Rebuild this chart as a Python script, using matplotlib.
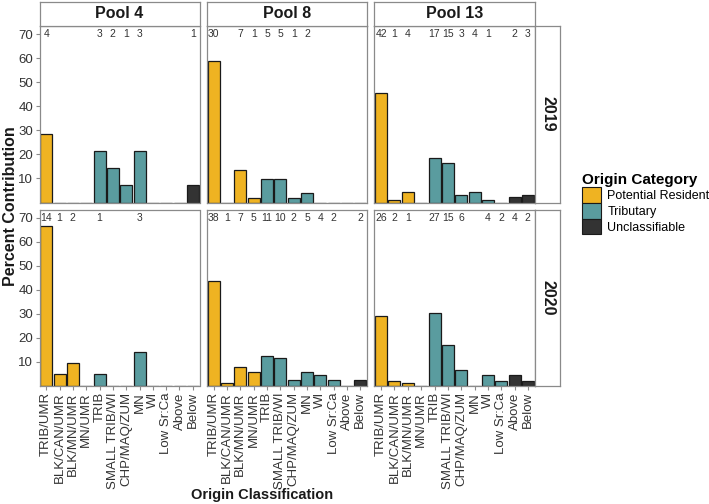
import matplotlib
matplotlib.use('Agg')
import matplotlib.pyplot as plt
from matplotlib.patches import Patch

plt.rcParams['font.family'] = ['Liberation Sans', 'DejaVu Sans']

categories = ['TRIB/UMR', 'BLK/CAN/UMR', 'BLK/MN/UMR', 'MN/UMR', 'TRIB',
              'SMALL TRIB/WI', 'CHP/MAQ/ZUM', 'MN', 'WI', 'Low Sr:Ca',
              'Above', 'Below']
groups = ['Potential Resident'] * 4 + ['Tributary'] * 6 + ['Unclassifiable'] * 2
pools = ['Pool 4', 'Pool 8', 'Pool 13']
years = ['2019', '2020']

# number of fish per origin class (printed on top of each panel)
n_2019_pool4 = [4, 0, 0, 0, 3, 2, 1, 3, 0, 0, 0, 1]
n_2019_pool8 = [30, 0, 7, 1, 5, 5, 1, 2, 0, 0, 0, 0]
n_2019_pool13 = [42, 1, 4, 0, 17, 15, 3, 4, 1, 0, 2, 3]
n_2020_pool4 = [14, 1, 2, 0, 1, 0, 0, 3, 0, 0, 0, 0]
n_2020_pool8 = [38, 1, 7, 5, 11, 10, 2, 5, 4, 2, 0, 2]
n_2020_pool13 = [26, 2, 1, 0, 27, 15, 6, 0, 4, 2, 4, 2]

# percent contribution (bar heights)
pct_2019_pool4 = [28.6, 0, 0, 0, 21.4, 14.3, 7.1, 21.4, 0, 0, 0, 7.1]
pct_2019_pool8 = [58.8, 0, 13.7, 2.0, 9.8, 9.8, 2.0, 3.9, 0, 0, 0, 0]
pct_2019_pool13 = [45.7, 1.1, 4.3, 0, 18.5, 16.3, 3.3, 4.3, 1.1, 0, 2.2, 3.3]
pct_2020_pool4 = [66.7, 4.8, 9.5, 0, 4.8, 0, 0, 14.3, 0, 0, 0, 0]
pct_2020_pool8 = [43.7, 1.1, 8.0, 5.7, 12.6, 11.5, 2.3, 5.7, 4.6, 2.3, 0, 2.3]
pct_2020_pool13 = [29.2, 2.2, 1.1, 0, 30.3, 16.9, 6.7, 0, 4.5, 2.2, 4.5, 2.2]

counts = {('2019', 'Pool 4'): n_2019_pool4, ('2019', 'Pool 8'): n_2019_pool8,
          ('2019', 'Pool 13'): n_2019_pool13, ('2020', 'Pool 4'): n_2020_pool4,
          ('2020', 'Pool 8'): n_2020_pool8, ('2020', 'Pool 13'): n_2020_pool13}
percents = {('2019', 'Pool 4'): pct_2019_pool4, ('2019', 'Pool 8'): pct_2019_pool8,
            ('2019', 'Pool 13'): pct_2019_pool13, ('2020', 'Pool 4'): pct_2020_pool4,
            ('2020', 'Pool 8'): pct_2020_pool8, ('2020', 'Pool 13'): pct_2020_pool13}

colors = {'Potential Resident': '#EFB322', 'Tributary': '#5A9C9F',
          'Unclassifiable': '#333333'}
textcol = '#333333'
bordercol = '#8a8a8a'

W, H = 709, 504
fig = plt.figure(figsize=(W / 100, H / 100), dpi=100)


def box(left, top, right, bottom):
    # pixel box -> figure fraction
    return [left / W, 1 - bottom / H, (right - left) / W, (bottom - top) / H]


col_left = [39.5, 207, 374.5]
panel_w = 160
row_top = [26, 209.5]
row_bottom = [202.5, 386]

x = list(range(len(categories)))
for r, year in enumerate(years):
    for c, pool in enumerate(pools):
        ax = fig.add_axes(box(col_left[c], row_top[r],
                              col_left[c] + panel_w, row_bottom[r]))
        vals = percents[(year, pool)]
        ax.bar(x, vals, width=0.9, color=[colors[g] for g in groups],
               edgecolor='#1a1a1a', linewidth=0.9)
        for i, n in enumerate(counts[(year, pool)]):
            if n > 0:
                ax.text(i, 70, str(n), ha='center', va='center',
                        fontsize=7.5, color=textcol)
        ax.set_xlim(-0.5, len(categories) - 0.5)
        ax.set_ylim(0, 73.5)
        ax.set_yticks([10, 20, 30, 40, 50, 60, 70])
        for s in ax.spines.values():
            s.set_color(bordercol)
            s.set_linewidth(0.9)
        ax.tick_params(colors=bordercol, length=3, width=0.8,
                       labelcolor=textcol)
        if c == 0:
            ax.tick_params(axis='y', labelsize=9.5, pad=1.5)
        else:
            ax.tick_params(axis='y', left=False, labelleft=False)
        if r == 1:
            ax.set_xticks(x)
            ax.set_xticklabels(categories, rotation=90, fontsize=9.5,
                               va='top', ha='center')
            ax.tick_params(axis='x', pad=1.5)
        else:
            ax.set_xticks([])
        # top strip
        if r == 0:
            sax = fig.add_axes(box(col_left[c], 2, col_left[c] + panel_w, 26))
            sax.set_xticks([])
            sax.set_yticks([])
            for s in sax.spines.values():
                s.set_color(bordercol)
                s.set_linewidth(0.9)
            sax.text(0.5, 0.5, pool, ha='center', va='center',
                     fontsize=11.5, fontweight='bold', color='#1a1a1a',
                     transform=sax.transAxes)
    # right strip
    rax = fig.add_axes(box(535, row_top[r], 560, row_bottom[r]))
    rax.set_xticks([])
    rax.set_yticks([])
    for s in rax.spines.values():
        s.set_color(bordercol)
        s.set_linewidth(0.9)
    rax.text(0.5, 0.5, year, ha='center', va='center', rotation=-90,
             fontsize=11.5, fontweight='bold', color='#1a1a1a',
             transform=rax.transAxes)

fig.text(11 / W, 1 - 206 / H, 'Percent Contribution', rotation=90,
         ha='center', va='center', fontsize=11.5, fontweight='bold',
         color='#1a1a1a')
fig.text(262 / W, 1 - 495 / H, 'Origin Classification', ha='center',
         va='center', fontsize=10.5, fontweight='bold', color='#1a1a1a')

handles = [Patch(facecolor=colors[k], edgecolor='#1a1a1a', linewidth=0.8,
                 label=k) for k in colors]
leg = fig.legend(handles=handles, title='Origin Category',
                 loc='upper left', bbox_to_anchor=(573 / W, 1 - 164 / H),
                 frameon=False, fontsize=9, title_fontsize=11,
                 handlelength=1.5, handleheight=1.5, handletextpad=0.55,
                 labelspacing=0.05, borderpad=0.2)
leg.get_title().set_fontweight('bold')
leg._legend_box.align = 'left'

fig.savefig('out.png', dpi=100)
